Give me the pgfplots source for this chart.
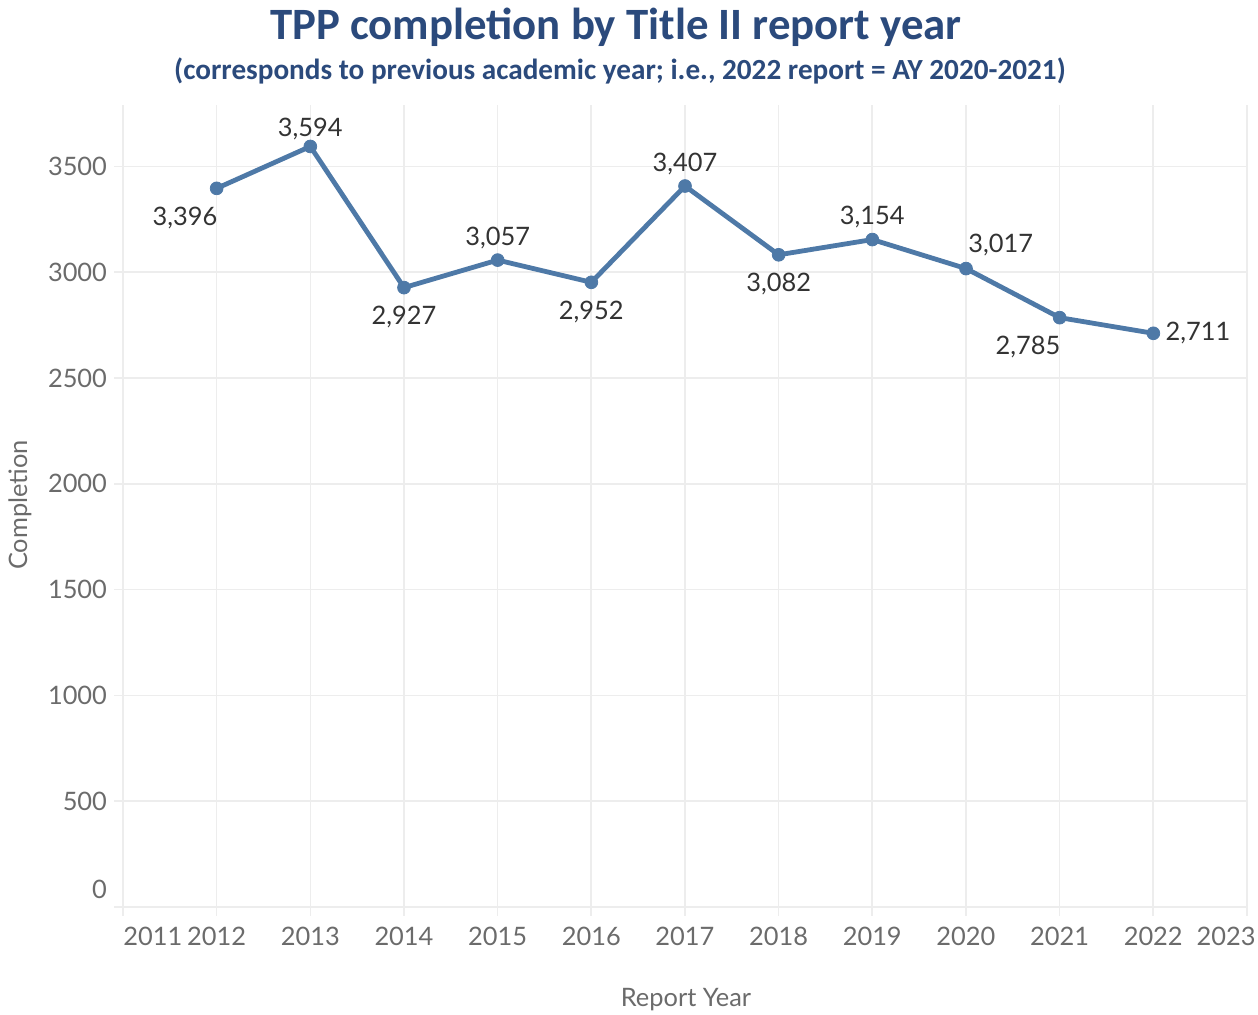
\documentclass[border=0pt]{standalone}
\usepackage{pgfplots}
\pgfplotsset{compat=1.18}
\usepackage{fontspec}
\setmainfont{Lato}
\newfontfamily\titlefont{Carlito}
\definecolor{lineblue}{HTML}{4E79A7}
\definecolor{titleblue}{HTML}{2B4A7C}
\definecolor{tickgray}{HTML}{6B6B6B}
\definecolor{gridgray}{HTML}{EDEDED}
\definecolor{labelgray}{HTML}{333333}
\newcommand{\tf}{\fontsize{12.7}{14}\selectfont}

\begin{document}
\begin{tikzpicture}
\begin{axis}[
  scale only axis,
  width=562pt, height=401pt,
  xmin=2011, xmax=2023,
  ymin=0, ymax=3790,
  xtick={2012,...,2022},
  ytick={500,1000,...,3500},
  extra y ticks={0},
  extra y tick style={yticklabel style={yshift=9pt}, grid=major},
  extra x ticks={2011,2023},
  extra x tick style={grid=major, xticklabel={}},
  xticklabel style={/pgf/number format/1000 sep={}, font=\tf, text=tickgray, yshift=-2pt},
  yticklabel style={/pgf/number format/1000 sep={}, font=\tf, text=tickgray},
  /pgf/number format/assume math mode=true,
  grid=major,
  major grid style={gridgray, line width=0.8pt},
  axis line style={draw=none},
  tick align=outside,
  major tick length=4.5pt,
  tick style={gridgray, line width=0.8pt},
  xtick pos=bottom, ytick pos=left,
  clip=false,
  lbl/.style 2 args={draw=none, mark=none, nodes near coords={\pgfmathprintnumber[1000 sep={,}]{\pgfplotspointmeta}},
    point meta=explicit,
    nodes near coords style={anchor=#1, font=\tf, text=labelgray, inner sep=3pt, #2}},
]
\addplot[lineblue, line width=2.4pt, mark=*, mark size=3.2pt,
  mark options={fill=lineblue, draw=lineblue, line width=0.4pt}]
  coordinates {(2012,3396) (2013,3594) (2014,2927) (2015,3057) (2016,2952) (2017,3407) (2018,3082) (2019,3154) (2020,3017) (2021,2785) (2022,2711)};
\addplot[lbl={south}{yshift=2.5pt}] coordinates {(2015,3057) [3057] (2017,3407) [3407] (2019,3154) [3154]};
\addplot[lbl={south}{yshift=0pt}] coordinates {(2013,3594) [3594]};
\addplot[lbl={north}{yshift=-6pt}] coordinates {(2014,2927) [2927] (2016,2952) [2952] (2018,3082) [3082]};
\addplot[lbl={north east}{yshift=-6pt, xshift=3.5pt}] coordinates {(2012,3396) [3396] (2021,2785) [2785]};
\addplot[lbl={south west}{yshift=3pt, xshift=-2pt}] coordinates {(2020,3017) [3017]};
\addplot[lbl={west}{xshift=3pt}] coordinates {(2022,2711) [2711]};
\end{axis}
% edge tick labels as in the reference
\node[anchor=north west, font=\tf, text=tickgray, inner sep=0pt] at (0pt,-10pt) {2011};
\node[anchor=north east, font=\tf, text=tickgray, inner sep=0pt] at (566.5pt,-10pt) {2023};
% titles
\node[font=\titlefont\bfseries\fontsize{22.4}{26}\selectfont, text=titleblue] at (246.5pt,440pt) {TPP completion by Title II report year};
\node[font=\titlefont\bfseries\fontsize{14.6}{17}\selectfont, text=titleblue] at (248.5pt,418pt) {(corresponds to previous academic year; i.e., 2022 report = AY 2020-2021)};
\node[rotate=90, font=\tf, text=tickgray] at (-51.5pt,201pt) {Completion};
\node[font=\tf, text=tickgray] at (281.5pt,-46.5pt) {Report Year};
\pgfresetboundingbox
\path[use as bounding box] (-61.5pt,-54pt) rectangle (567.5pt,453.5pt);
\end{tikzpicture}
\end{document}
